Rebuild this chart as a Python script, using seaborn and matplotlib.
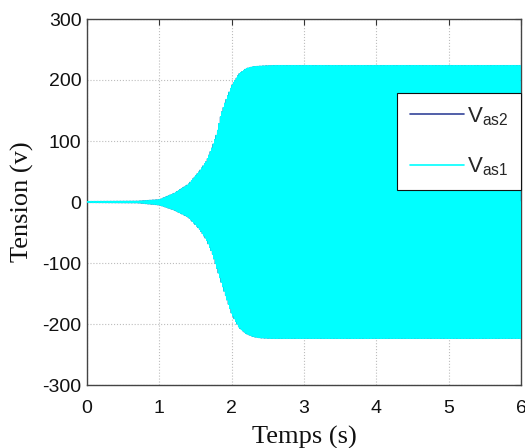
import numpy as np
import pandas as pd
import matplotlib
matplotlib.use("Agg")
import matplotlib.pyplot as plt
import seaborn as sns

# Envelope of the stator phase voltage during self-excitation build-up (V)
t_env = [0.0, 0.7, 1.0, 1.2, 1.4, 1.55, 1.65, 1.73, 1.8, 1.85, 1.91, 2.0,
         2.1, 2.2, 2.3, 2.4, 2.6, 6.0]
upper_env = [1.0, 1.5, 4, 14, 29, 50, 67, 90, 115, 143, 164, 191,
             210, 219, 222, 223, 224, 224]
lower_env = [-1.0, -1.5, -5, -13, -25, -44, -62, -84, -111, -130, -152, -184,
             -206, -216, -221, -223, -224, -224]

f_elec = 50.0        # electrical frequency (Hz)
dt = 1e-3            # recorded sample step (s)
t_end = 6.0

series_names = ["$\\mathregular{V_{as2}}$", "$\\mathregular{V_{as1}}$"]
series_colors = ["#33449a", "#00ffff"]
series_phase = [0.35, 0.0]
series_width = [0.7, 0.7]

x_ticks = [0, 1, 2, 3, 4, 5, 6]
y_ticks = [-300, -200, -100, 0, 100, 200, 300]

t = np.arange(0.0, t_end + dt / 2, dt)
up = np.interp(t, t_env, upper_env)
lo = np.interp(t, t_env, lower_env)
mid = (up + lo) / 2.0
half = (up - lo) / 2.0

sns.set_theme(style="white")
plt.rcParams["font.family"] = ["Liberation Sans", "DejaVu Sans"]
plt.rcParams["path.simplify"] = False
plt.rcParams["axes.unicode_minus"] = False

fig = plt.figure(figsize=(5.25, 4.48), dpi=100)
ax = fig.add_axes([87 / 525, 1 - 385 / 448, (521 - 87) / 525, (385 - 19) / 448])

for name, color, ph, lw in zip(series_names, series_colors, series_phase, series_width):
    v = mid + half * np.sin(2 * np.pi * f_elec * t + ph)
    df = pd.DataFrame({"t": t, "v": v})
    sns.lineplot(data=df, x="t", y="v", ax=ax, color=color, linewidth=lw,
                 estimator=None, sort=False, label=name, zorder=3)

ax.set_xlim(0, 6)
ax.set_ylim(-300, 300)
ax.set_xticks(x_ticks)
ax.set_yticks(y_ticks)
ax.grid(True, linestyle=":", color="#bdbdbd", linewidth=0.8, zorder=0)
ax.set_axisbelow(True)

ax.tick_params(direction="in", length=4, width=0.8, colors="#333333",
               top=True, right=True, labelsize=14, labelcolor="#111111")
ax.tick_params(axis="x", pad=11)
ax.tick_params(axis="y", pad=4)
for sp in ax.spines.values():
    sp.set_color("#444444")
    sp.set_linewidth(1.0)

ax.set_xlabel("Temps (s)", fontfamily="Liberation Serif", fontsize=19,
              labelpad=6, color="#111111")
ax.set_ylabel("Tension (v)", fontfamily="Liberation Serif", fontsize=19,
              labelpad=6, color="#111111")

leg = ax.legend(loc="upper right", bbox_to_anchor=(1.0, (385 - 93) / 366),
                borderaxespad=0, fontsize=16, frameon=True, fancybox=False,
                framealpha=1, edgecolor="#111111", handlelength=2.45,
                handletextpad=0.15, labelspacing=1.25, borderpad=0.55)
leg.get_frame().set_linewidth(0.8)
for line in leg.get_lines():
    line.set_linewidth(1.2)

fig.savefig("out.png", dpi=100)
